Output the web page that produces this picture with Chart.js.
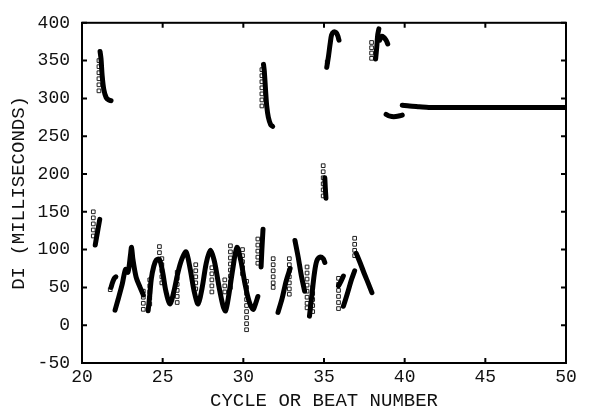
<!DOCTYPE html>
<html>
<head>
<meta charset="utf-8">
<script src="https://cdn.jsdelivr.net/npm/chart.js@4"></script>
<style>
  html, body { margin: 0; padding: 0; background: #fff; }
  .wrap { width: 591px; height: 414px; position: relative; }
</style>
</head>
<body>
<div class="wrap"><canvas id="chart" width="591" height="414"></canvas></div>
<script>
// axis ticks
const xTickValues = [20, 25, 30, 35, 40, 45, 50];
const yTickValues = [-50, 0, 50, 100, 150, 200, 250, 300, 350, 400];

// dense runs of beats (drawn as thick traces), [cycle, DI]
const earlyRise = [[20.82, 106], [20.9, 116], [21.0, 128], [21.1, 140]];
const firstDrop = [[21.12, 362], [21.18, 352], [21.25, 330], [21.35, 312], [21.5, 301], [21.65, 298], [21.8, 297]];
const lowStart = [[21.8, 50], [21.9, 57], [22.0, 62], [22.1, 64]];
const lowWave1 = [[22.05, 20], [22.25, 35], [22.5, 55], [22.7, 74], [22.85, 70], [23.0, 92], [23.07, 103],
  [23.15, 88], [23.35, 64], [23.6, 50], [23.8, 40]];
const lowWave2 = [[24.1, 19], [24.2, 40], [24.3, 62], [24.45, 78], [24.6, 86], [24.8, 87], [25.0, 70],
  [25.2, 45], [25.45, 28], [25.7, 45], [25.95, 70], [26.2, 88], [26.45, 97], [26.7, 75], [26.95, 45],
  [27.2, 28], [27.45, 50], [27.7, 82], [27.95, 99], [28.2, 85], [28.5, 50], [28.75, 25], [28.9, 19],
  [29.1, 40], [29.35, 75], [29.6, 103], [29.85, 85], [30.1, 55], [30.35, 32], [30.6, 21], [30.75, 28], [30.9, 38]];
const spike31 = [[31.1, 77], [31.15, 100], [31.22, 127]];
const top31 = [[31.25, 345], [31.3, 336], [31.38, 310], [31.45, 290], [31.55, 275], [31.7, 265], [31.82, 263]];
const lowWave3 = [[32.15, 17], [32.4, 35], [32.65, 58], [32.9, 75]];
const lowWave4 = [[33.2, 112], [33.4, 90], [33.6, 65], [33.8, 45]];
const lowWave5 = [[34.1, 12], [34.25, 40], [34.4, 68], [34.55, 85], [34.75, 90], [34.95, 88], [35.05, 83]];
const mid35 = [[35.05, 195], [35.08, 182], [35.12, 168]];
const top35 = [[35.17, 341], [35.28, 356], [35.38, 372], [35.47, 384], [35.6, 388], [35.75, 387], [35.85, 383], [35.93, 377]];
const lowWave6 = [[35.9, 52], [36.05, 58], [36.2, 65]];
const lowWave7 = [[36.2, 25], [36.45, 42], [36.7, 60], [36.9, 72]];
const lowWave8 = [[37.0, 95], [37.25, 82], [37.5, 68], [37.75, 55], [37.97, 43]];
const top38a = [[38.2, 352], [38.27, 368], [38.33, 384], [38.4, 392]];
const top38b = [[38.45, 377], [38.55, 382], [38.7, 381], [38.85, 377], [38.95, 372]];
const near39 = [[38.85, 279], [39.0, 277], [39.2, 276], [39.45, 276], [39.7, 277], [39.85, 278]];
const steadyTail = [[39.85, 291], [40.3, 290], [40.9, 289], [41.5, 288], [45, 288], [50, 288]];

// sparse beats where the markers stand apart, [cycle, DI]
const sparseBeats = [
  [20.7, 150], [20.7, 142], [20.7, 134], [20.7, 126], [20.7, 118],
  [21.05, 350], [21.05, 342], [21.05, 334], [21.05, 326], [21.05, 318], [21.05, 310],
  [21.75, 47],
  [23.8, 45], [23.8, 37], [23.8, 29], [23.8, 21],
  [24.2, 60], [24.2, 52], [24.2, 44], [24.2, 36], [24.2, 28],
  [24.8, 104], [24.8, 96],
  [24.95, 88], [24.95, 80], [24.95, 72], [24.95, 64], [24.95, 56],
  [25.9, 70], [25.9, 62], [25.9, 54], [25.9, 46], [25.9, 38], [25.9, 30],
  [27.05, 80], [27.05, 72], [27.05, 64], [27.05, 56], [27.05, 48],
  [28.05, 76], [28.05, 68], [28.05, 60], [28.05, 52], [28.05, 44],
  [28.85, 60], [28.85, 52], [28.85, 44],
  [29.2, 105], [29.2, 97], [29.2, 89], [29.2, 81], [29.2, 73], [29.2, 65], [29.2, 57], [29.2, 50],
  [29.95, 100], [29.95, 92], [29.95, 84], [29.95, 76], [29.95, 68],
  [30.2, 58], [30.2, 50], [30.2, 42], [30.2, 34], [30.2, 26], [30.2, 18], [30.2, 10], [30.2, 2], [30.2, -6],
  [30.9, 114], [30.9, 106], [30.9, 98], [30.9, 90], [30.9, 82],
  [31.15, 338], [31.15, 330], [31.15, 322], [31.15, 314], [31.15, 306], [31.15, 298], [31.15, 290],
  [31.85, 88], [31.85, 80], [31.85, 72], [31.85, 64], [31.85, 56], [31.85, 50],
  [32.85, 88], [32.85, 80], [32.85, 72], [32.85, 64], [32.85, 56], [32.85, 48], [32.85, 41],
  [33.95, 77], [33.95, 69], [33.95, 61], [33.95, 53], [33.95, 45], [33.95, 37], [33.95, 29], [33.95, 23],
  [34.3, 50], [34.3, 42], [34.3, 34], [34.3, 26], [34.3, 18],
  [34.95, 211], [34.95, 203], [34.95, 195], [34.95, 187], [34.95, 179], [34.95, 171],
  [35.2, 348],
  [35.9, 62], [35.9, 54], [35.9, 46], [35.9, 38], [35.9, 30], [35.9, 22],
  [36.9, 115], [36.9, 107], [36.9, 99], [36.9, 92],
  [37.95, 374], [37.95, 367], [37.95, 360], [37.95, 353]
];

const traces = [earlyRise, firstDrop, lowStart, lowWave1, lowWave2, spike31, top31, lowWave3, lowWave4,
  lowWave5, mid35, top35, lowWave6, lowWave7, lowWave8, top38a, top38b, near39, steadyTail];

const toPts = (arr) => arr.map(([x, y]) => ({ x, y }));

const datasets = traces.map((t) => ({
  data: toPts(t),
  showLine: true,
  borderColor: '#000',
  borderWidth: 5,
  borderCapStyle: 'round',
  borderJoinStyle: 'round',
  tension: 0.3,
  pointRadius: 0,
}));
datasets.push({
  data: toPts(sparseBeats),
  showLine: false,
  pointStyle: 'rect',
  pointRadius: 2.6,
  borderWidth: 1,
  borderColor: '#222',
  backgroundColor: '#fff',
});

// frame with inward ticks on all four sides
const framePlugin = {
  id: 'frame',
  afterDatasetsDraw(chart) {
    const { ctx, chartArea: a, scales: { x, y } } = chart;
    ctx.save();
    ctx.strokeStyle = '#000';
    ctx.lineWidth = 2;
    ctx.strokeRect(a.left, a.top, a.right - a.left, a.bottom - a.top);
    const len = 5;
    ctx.beginPath();
    xTickValues.forEach((v) => {
      const px = x.getPixelForValue(v);
      ctx.moveTo(px, a.bottom); ctx.lineTo(px, a.bottom - len);
      ctx.moveTo(px, a.top); ctx.lineTo(px, a.top + len);
    });
    yTickValues.forEach((v) => {
      const py = y.getPixelForValue(v);
      ctx.moveTo(a.left, py); ctx.lineTo(a.left + len, py);
      ctx.moveTo(a.right, py); ctx.lineTo(a.right - len, py);
    });
    ctx.stroke();
    ctx.restore();
  },
};

const mono = 'Liberation Mono, Courier New, monospace';

new Chart(document.getElementById('chart'), {
  type: 'scatter',
  data: { datasets },
  options: {
    responsive: false,
    animation: false,
    layout: { padding: { top: 17, right: 25, left: 0, bottom: 0 } },
    plugins: { legend: { display: false }, tooltip: { enabled: false } },
    scales: {
      x: {
        type: 'linear', min: 20, max: 50,
        afterBuildTicks: (s) => { s.ticks = xTickValues.map((v) => ({ value: v })); },
        afterFit: (s) => { s.height = 51; },
        grid: { display: false, drawTicks: false },
        border: { display: false },
        ticks: { color: '#111', padding: 3, maxRotation: 0, font: { family: mono, size: 18 } },
        title: { display: true, text: 'CYCLE OR BEAT NUMBER', color: '#111', padding: { top: 0, bottom: 2 },
          font: { family: mono, size: 19 } },
      },
      y: {
        type: 'linear', min: -50, max: 400,
        afterBuildTicks: (s) => { s.ticks = yTickValues.map((v) => ({ value: v })); },
        afterFit: (s) => { s.width = 82; },
        grid: { display: false, drawTicks: false },
        border: { display: false },
        ticks: { color: '#111', padding: 12, font: { family: mono, size: 18 } },
        title: { display: true, text: 'DI (MILLISECONDS)', color: '#111', padding: { top: 8, bottom: 0 },
          font: { family: mono, size: 19 } },
      },
    },
  },
  plugins: [framePlugin],
});
</script>
</body>
</html>
